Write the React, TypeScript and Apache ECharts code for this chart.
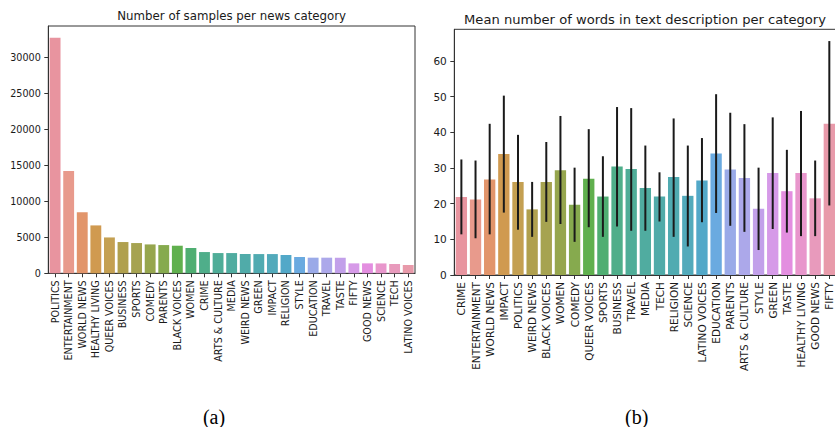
import React, { useEffect, useRef } from "react";
import * as echarts from "echarts";

const leftCategories = [
  "POLITICS", "ENTERTAINMENT", "WORLD NEWS", "HEALTHY LIVING", "QUEER VOICES", "BUSINESS", "SPORTS",
  "COMEDY", "PARENTS", "BLACK VOICES", "WOMEN", "CRIME", "ARTS & CULTURE", "MEDIA", "WEIRD NEWS",
  "GREEN", "IMPACT", "RELIGION", "STYLE", "EDUCATION", "TRAVEL", "TASTE", "FIFTY", "GOOD NEWS",
  "SCIENCE", "TECH", "LATINO VOICES",
];
const leftCounts = [
  32720, 14210, 8490, 6650, 4980, 4340, 4200, 4010, 3920, 3830, 3510, 2950, 2810, 2810, 2680,
  2670, 2670, 2540, 2260, 2170, 2170, 2160, 1380, 1380, 1370, 1290, 1150,
];
const leftTicks = [0, 5000, 10000, 15000, 20000, 25000, 30000];

const rightCategories = [
  "CRIME", "ENTERTAINMENT", "WORLD NEWS", "IMPACT", "POLITICS", "WEIRD NEWS", "BLACK VOICES", "WOMEN",
  "COMEDY", "QUEER VOICES", "SPORTS", "BUSINESS", "TRAVEL", "MEDIA", "TECH", "RELIGION", "SCIENCE",
  "LATINO VOICES", "EDUCATION", "PARENTS", "ARTS & CULTURE", "STYLE", "GREEN", "TASTE",
  "HEALTHY LIVING", "GOOD NEWS", "FIFTY",
];
const rightMeans = [
  21.9, 21.2, 26.8, 33.9, 26.1, 18.4, 26.1, 29.4, 19.7, 27.0, 22.0, 30.4, 29.7, 24.4, 22.0, 27.5,
  22.2, 26.5, 34.1, 29.6, 27.2, 18.6, 28.6, 23.5, 28.6, 21.5, 42.4,
];
const rightLow = [
  11.4, 10.3, 11.4, 17.5, 12.7, 10.7, 14.9, 14.3, 9.3, 13.4, 10.7, 13.6, 12.4, 12.4, 15.0, 10.7,
  8.0, 14.8, 17.4, 13.8, 12.1, 7.0, 12.9, 11.9, 10.9, 10.9, 19.5,
];
const rightHigh = [
  32.4, 32.1, 42.4, 50.3, 39.3, 26.1, 37.3, 44.6, 30.1, 40.9, 33.3, 47.1, 46.8, 36.3, 28.8, 43.9,
  36.3, 38.4, 50.7, 45.5, 42.3, 30.1, 44.2, 35.1, 46.0, 32.1, 65.6,
];
const rightTicks = [0, 10, 20, 30, 40, 50, 60];

// seaborn husl palette (desaturated), colour by bar position
const PALETTE = [
  "#e8949f", "#e89a8c", "#e2956b", "#d09a50", "#c4a052", "#b0a04e", "#a6a350", "#96a64e", "#86aa4e",
  "#60b04e", "#4fae72", "#4fae8a", "#4fad98", "#50aca0", "#50aba9", "#50abb1", "#52aabb", "#52a8c8",
  "#6aaae0", "#9aaae8", "#aca8ea", "#c2a0ea", "#d69ae8", "#e38ee0", "#e896cc", "#e89abc", "#e89aaa",
];

const FONT = "DejaVu Sans";
const TXT = "#1a1a1a";
const AX = "#333333";

export default function App() {
  const ref = useRef<HTMLDivElement>(null);
  useEffect(() => {
    if (!ref.current) return;
    const chart = echarts.init(ref.current, null, { renderer: "svg" });
    const xAxisCommon = (fs: number) => ({
      type: "category" as const,
      axisLine: { show: true, lineStyle: { color: AX, width: 1 } },
      axisTick: { show: true, alignWithLabel: true, length: 4, lineStyle: { color: AX } },
      axisLabel: { rotate: 90, interval: 0, fontSize: fs, color: TXT, fontFamily: FONT, margin: 7 },
      splitLine: { show: false },
    });
    const option: any = {
      animation: false,
      grid: [
        { left: 48.3, top: 26, width: 366.7, height: 247.3, show: true, borderColor: AX, borderWidth: 1, containLabel: false },
        { left: 454.3, top: 29.3, width: 382.1, height: 245.7, show: true, borderColor: AX, borderWidth: 1, containLabel: false },
      ],
      xAxis: [
        { ...xAxisCommon(9.6), gridIndex: 0, data: leftCategories },
        { ...xAxisCommon(10.5), gridIndex: 1, data: rightCategories },
      ],
      yAxis: [
        {
          type: "value", gridIndex: 0, min: 0, max: 34340,
          axisLine: { show: true, lineStyle: { color: AX, width: 1 } },
          axisTick: { show: true, length: 4, lineStyle: { color: AX }, customValues: leftTicks },
          axisLabel: { fontSize: 9.6, color: TXT, fontFamily: FONT, margin: 7.5, customValues: leftTicks, formatter: (v: number) => String(v) },
          splitLine: { show: false },
        },
        {
          type: "value", gridIndex: 1, min: 0, max: 68.9,
          axisLine: { show: true, lineStyle: { color: AX, width: 1 } },
          axisTick: { show: true, length: 4, lineStyle: { color: AX }, customValues: rightTicks },
          axisLabel: { fontSize: 10.5, color: TXT, fontFamily: FONT, margin: 7.5, customValues: rightTicks, formatter: (v: number) => String(v) },
          splitLine: { show: false },
        },
      ],
      series: [
        {
          type: "bar", xAxisIndex: 0, yAxisIndex: 0, barCategoryGap: "20%",
          data: leftCounts.map((v, i) => ({ value: v, itemStyle: { color: PALETTE[i % PALETTE.length] } })),
        },
        {
          type: "bar", xAxisIndex: 1, yAxisIndex: 1, barCategoryGap: "20%",
          data: rightMeans.map((v, i) => ({ value: v, itemStyle: { color: PALETTE[i % PALETTE.length] } })),
        },
        {
          type: "custom", xAxisIndex: 1, yAxisIndex: 1, z: 5,
          data: rightCategories.map((c, i) => [i, rightLow[i], rightHigh[i]]),
          encode: { x: 0, y: [1, 2] },
          renderItem: (params: any, api: any) => {
            const lo = api.coord([api.value(0), api.value(1)]);
            const hi = api.coord([api.value(0), api.value(2)]);
            return {
              type: "line",
              shape: { x1: lo[0], y1: lo[1], x2: hi[0], y2: hi[1] },
              style: { stroke: "#1a1a1a", lineWidth: 2 },
            };
          },
        },
      ],
      graphic: [
        {
          type: "text", x: 231.7, y: 15.5,
          style: { text: "Number of samples per news category", fontSize: 11.8, fontFamily: FONT, fill: TXT, textAlign: "center", textVerticalAlign: "middle" },
        },
        {
          type: "text", x: 645, y: 19.5,
          style: { text: "Mean number of words in text description per category", fontSize: 13.1, fontFamily: FONT, fill: TXT, textAlign: "center", textVerticalAlign: "middle" },
        },
        {
          type: "text", x: 214, y: 417,
          style: { text: "(a)", fontSize: 20, fontFamily: "Liberation Serif", fill: "#000", textAlign: "center", textVerticalAlign: "middle" },
        },
        {
          type: "text", x: 636.7, y: 417,
          style: { text: "(b)", fontSize: 20, fontFamily: "Liberation Serif", fill: "#000", textAlign: "center", textVerticalAlign: "middle" },
        },
      ],
    };
    chart.setOption(option);
    return () => chart.dispose();
  }, []);
  return (
    <div style={{ position: "absolute", left: 0, top: 0, width: 835, height: 427, overflow: "hidden", background: "#fff" }}>
      <div ref={ref} style={{ width: 900, height: 427 }} />
    </div>
  );
}
